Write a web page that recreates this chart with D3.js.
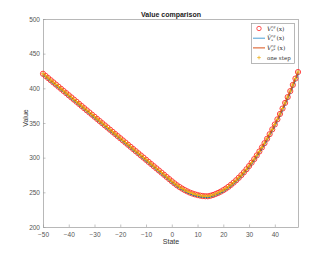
<!DOCTYPE html>
<html lang="en">
<head>
  <meta charset="utf-8">
  <title>Value comparison</title>
  <script src="https://d3js.org/d3.v7.min.js"></script>
  <style>
    body { margin: 0; background: #fff; }
  </style>
</head>
<body>
<script>
  // states -50..49
  const states = d3.range(-50, 50);
  // optimal value V*
  const vStar = [
    421, 417.9, 414.8, 411.7, 408.6, 405.5, 402.4, 399.3, 396.2, 393.1,
    390, 386.9, 383.8, 380.7, 377.6, 374.5, 371.4, 368.3, 365.2, 362.1,
    359, 355.9, 352.8, 349.7, 346.6, 343.5, 340.4, 337.3, 334.2, 331.1,
    328, 324.9, 321.8, 318.7, 315.6, 312.5, 309.4, 306.3, 303.2, 300.1,
    297, 293.9, 290.8, 287.7, 284.6, 281.5, 278.4, 275.3, 272.2, 269.1,
    266, 263.0, 260.2, 257.7, 255.4, 253.3, 251.4, 249.7, 248.3, 247.1,
    246.1, 245.3, 244.7, 244.4, 244.3, 245.1, 246.2, 247.6, 249.2, 251.0,
    253.1, 255.4, 258.0, 260.9, 264.0, 267.4, 271.0, 274.8, 278.9, 283.3,
    287.9, 292.8, 297.9, 303.3, 308.9, 314.8, 320.9, 327.3, 333.9, 340.8,
    347.9, 355.3, 363.0, 370.9, 379.0, 387.4, 396.0, 404.9, 414.1, 423.5
  ];
  // approximate value V-hat (sits slightly below)
  const vHat = [
    419.5, 416.4, 413.3, 410.2, 407.1, 404, 400.9, 397.8, 394.7, 391.6,
    388.5, 385.4, 382.3, 379.2, 376.1, 373, 369.9, 366.8, 363.7, 360.6,
    357.5, 354.4, 351.3, 348.2, 345.1, 342, 338.9, 335.8, 332.7, 329.6,
    326.5, 323.4, 320.3, 317.2, 314.1, 311, 307.9, 304.8, 301.7, 298.6,
    295.5, 292.4, 289.3, 286.2, 283.1, 280, 276.9, 273.8, 270.7, 267.6,
    264.5, 261.5, 258.7, 256.2, 253.9, 251.8, 249.9, 248.2, 246.8, 245.6,
    244.6, 243.8, 243.2, 242.9, 242.8, 243.6, 244.7, 246.1, 247.7, 249.5,
    251.6, 253.9, 256.5, 259.4, 262.5, 265.9, 269.5, 273.3, 277.4, 281.8,
    286.4, 291.3, 296.4, 301.8, 307.4, 313.3, 319.4, 325.8, 332.4, 339.3,
    346.4, 353.8, 361.5, 369.4, 377.5, 385.9, 394.5, 403.4, 412.6, 422
  ];
  // policy value V_mu* and one-step values (same as V*)
  const vMu = vStar;
  const vOneStep = vStar;

  const xTicks = [-50, -40, -30, -20, -10, 0, 10, 20, 30, 40];
  const yTicks = [200, 250, 300, 350, 400, 450, 500];

  const W = 330, H = 255;
  const m = {left: 43, right: 32, top: 19, bottom: 28};
  const font = "Liberation Sans, Arial, sans-serif";

  const svg = d3.select("body").append("svg")
    .attr("width", W).attr("height", H);

  const x = d3.scaleLinear().domain([-50, 49]).range([m.left, W - m.right]);
  const y = d3.scaleLinear().domain([200, 500]).range([H - m.bottom, m.top]);

  const pts = (vals) => states.map((s, i) => ({s: s, v: vals[i]}));

  // axes box
  svg.append("rect")
    .attr("x", m.left + 0.5).attr("y", m.top + 0.5)
    .attr("width", x(49) - m.left).attr("height", y(200) - m.top)
    .attr("fill", "none").attr("stroke", "#9a9a9a").attr("stroke-width", 0.7);

  const xAxis = svg.append("g")
    .attr("transform", `translate(0,${y(200)})`)
    .call(d3.axisBottom(x).tickValues(xTicks).tickSizeInner(-2.5).tickSizeOuter(0).tickPadding(5));
  const yAxis = svg.append("g")
    .attr("transform", `translate(${m.left},0)`)
    .call(d3.axisLeft(y).tickValues(yTicks).tickSizeInner(-2.5).tickSizeOuter(0).tickPadding(3));
  [xAxis, yAxis].forEach(g => {
    g.select(".domain").remove();
    g.selectAll(".tick line").attr("stroke", "#9a9a9a").attr("stroke-width", 0.6);
    g.selectAll(".tick text").attr("font-size", 6.5).attr("font-family", font).attr("fill", "#555");
  });

  // circles V*
  svg.append("g").selectAll("circle")
    .data(pts(vStar)).join("circle")
    .attr("cx", d => x(d.s)).attr("cy", d => y(d.v)).attr("r", 2.6)
    .attr("fill", "none").attr("stroke", "#ff2a2a").attr("stroke-width", 0.9);

  const line = d3.line().x(d => x(d.s)).y(d => y(d.v));
  svg.append("path").attr("d", line(pts(vHat)))
    .attr("fill", "none").attr("stroke", "#0072BD").attr("stroke-width", 1.6);
  svg.append("path").attr("d", line(pts(vMu)))
    .attr("fill", "none").attr("stroke", "#D95319").attr("stroke-width", 1.6);

  // one-step plus markers
  svg.append("g").selectAll("path")
    .data(pts(vOneStep)).join("path")
    .attr("transform", d => `translate(${x(d.s)},${y(d.v)})`)
    .attr("d", "M-2,0H2M0,-2V2")
    .attr("fill", "none").attr("stroke", "#EDB120").attr("stroke-width", 1);

  // labels
  svg.append("text").attr("x", 171).attr("y", 17).attr("text-anchor", "middle")
    .attr("font-family", font).attr("fill", "#222")
    .attr("font-size", 7).attr("font-weight", "bold").text("Value comparison");
  svg.append("text").attr("x", 171).attr("y", 244).attr("text-anchor", "middle")
    .attr("font-family", font).attr("fill", "#333")
    .attr("font-size", 7).text("State");
  svg.append("text").attr("transform", "translate(28,118) rotate(-90)").attr("text-anchor", "middle")
    .attr("font-family", font).attr("fill", "#333")
    .attr("font-size", 7).text("Value");

  // legend
  const lg = svg.append("g").attr("transform", "translate(251,23)");
  lg.append("rect").attr("x", 0.5).attr("y", 0.5).attr("width", 43).attr("height", 40)
    .attr("fill", "#fff").attr("stroke", "#9a9a9a").attr("stroke-width", 0.7);
  const rows = [
    {kind: "circle", base: "V", sub: "*"},
    {kind: "blue", base: "V\u0302", sub: "*"},
    {kind: "orange", base: "V", sub: "\u03bc*"},
    {kind: "plus", label: "one step"}
  ];
  const serif = "DejaVu Serif, Liberation Serif, serif";
  rows.forEach((r, i) => {
    const cy = 5.5 + i * 9.7;
    const g = lg.append("g").attr("transform", `translate(0,${cy})`);
    if (r.kind === "circle") {
      g.append("circle").attr("cx", 8).attr("cy", 0).attr("r", 2.2)
        .attr("fill", "none").attr("stroke", "#ff2a2a").attr("stroke-width", 0.8);
    } else if (r.kind === "blue" || r.kind === "orange") {
      g.append("line").attr("x1", 2).attr("x2", 14).attr("y1", 0).attr("y2", 0)
        .attr("stroke", r.kind === "blue" ? "#4a9fd6" : "#D95319").attr("stroke-width", 1);
    } else {
      g.append("path").attr("d", "M6.2,0H9.8M8,-1.8V1.8")
        .attr("stroke", "#EDB120").attr("stroke-width", 0.8);
    }
    if (r.label) {
      g.append("text").attr("x", 16).attr("y", 2).attr("font-family", serif)
        .attr("font-size", 5.5).attr("fill", "#333").text(r.label);
    } else {
      g.append("text").attr("x", 16).attr("y", 2.2).attr("font-family", serif)
        .attr("font-style", "italic").attr("font-size", 6).attr("fill", "#333").text(r.base);
      g.append("text").attr("x", 20.3).attr("y", -1).attr("font-family", serif)
        .attr("font-style", "italic").attr("font-size", 3.4).attr("fill", "#333").text("cg");
      g.append("text").attr("x", 20.3).attr("y", 3.6).attr("font-family", serif)
        .attr("font-style", "italic").attr("font-size", 3.4).attr("fill", "#333").text(r.sub);
      g.append("text").attr("x", r.sub.length > 1 ? 26.2 : 25.4).attr("y", 2.2).attr("font-family", serif)
        .attr("font-size", 6).attr("fill", "#333").text("(x)");
    }
  });
</script>
</body>
</html>
